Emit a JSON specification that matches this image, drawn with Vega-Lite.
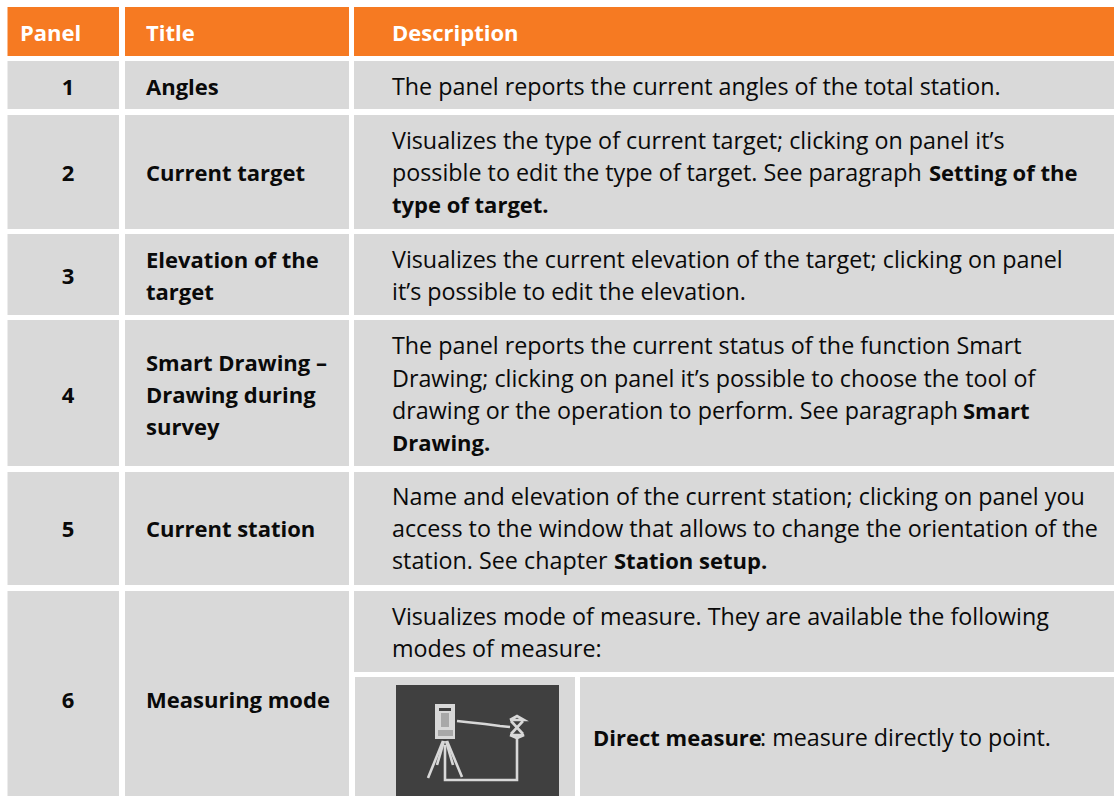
{"$schema":"https://vega.github.io/schema/vega-lite/v6.json","width":1114,"height":796,"autosize":{"type":"fit","contains":"padding"},"padding":0,"background":"white","view":{"stroke":null},
"datasets":{
"cells":[
{"k":"header","l":7.5,"r":119,"t":7,"b":56},{"k":"header","l":125,"r":349,"t":7,"b":56},{"k":"header","l":354,"r":1114,"t":7,"b":56},
{"k":"body","l":7.5,"r":119,"t":61,"b":109},{"k":"body","l":125,"r":349,"t":61,"b":109},{"k":"body","l":354,"r":1114,"t":61,"b":109},
{"k":"body","l":7.5,"r":119,"t":115,"b":229},{"k":"body","l":125,"r":349,"t":115,"b":229},{"k":"body","l":354,"r":1114,"t":115,"b":229},
{"k":"body","l":7.5,"r":119,"t":234,"b":315},{"k":"body","l":125,"r":349,"t":234,"b":315},{"k":"body","l":354,"r":1114,"t":234,"b":315},
{"k":"body","l":7.5,"r":119,"t":320,"b":466},{"k":"body","l":125,"r":349,"t":320,"b":466},{"k":"body","l":354,"r":1114,"t":320,"b":466},
{"k":"body","l":7.5,"r":119,"t":472,"b":585},{"k":"body","l":125,"r":349,"t":472,"b":585},{"k":"body","l":354,"r":1114,"t":472,"b":585},
{"k":"body","l":7.5,"r":119,"t":591,"b":796},{"k":"body","l":125,"r":349,"t":591,"b":796},{"k":"body","l":354,"r":1114,"t":591,"b":672},
{"k":"body","l":355,"r":575,"t":677,"b":796},{"k":"body","l":580,"r":1114,"t":677,"b":796},
{"k":"picture","l":396,"r":559,"t":685,"b":796},
{"k":"light","l":435,"r":455,"t":704,"b":739},
{"k":"picture","l":439,"r":451,"t":708,"b":711},
{"k":"mid","l":441,"r":449,"t":713,"b":727},
{"k":"mid","l":438,"r":453,"t":730,"b":736}
],
"strokes":[
{"g":"a","px":443,"py":741},{"g":"a","px":428,"py":778},
{"g":"b","px":447,"py":741},{"g":"b","px":462,"py":777},
{"g":"i","px":444,"py":741},{"g":"i","px":437,"py":765},
{"g":"j","px":446,"py":741},{"g":"j","px":453,"py":765},
{"g":"c","px":445,"py":745},{"g":"c","px":445,"py":780},{"g":"c","px":517,"py":780},{"g":"c","px":517,"py":738},
{"g":"d","px":457,"py":721},{"g":"d","px":466,"py":722},{"g":"d","px":485,"py":724},{"g":"d","px":500,"py":726},{"g":"d","px":510,"py":727},
{"g":"e","px":510,"py":720},{"g":"e","px":517,"py":716},{"g":"e","px":524,"py":720},{"g":"e","px":510,"py":720},
{"g":"f","px":511,"py":721},{"g":"f","px":523,"py":734},
{"g":"g","px":523,"py":721},{"g":"g","px":511,"py":734},
{"g":"h","px":510,"py":735},{"g":"h","px":524,"py":735},{"g":"h","px":517,"py":738},{"g":"h","px":510,"py":735}
],
"texts":[
{"k":"head","a":"Panel","px":20,"py":33},{"k":"head","a":"Title","px":146,"py":33},{"k":"head","a":"Description","px":392,"py":33},
{"k":"num","a":"1","px":68,"py":87},{"k":"num","a":"2","px":68,"py":173},{"k":"num","a":"3","px":68,"py":276},{"k":"num","a":"4","px":68,"py":395},{"k":"num","a":"5","px":68,"py":529},{"k":"num","a":"6","px":68,"py":700},
{"k":"bold","a":"Angles","px":146,"py":87},{"k":"bold","a":"Current target","px":146,"py":173},{"k":"bold","a":"Elevation of the","px":146,"py":260},{"k":"bold","a":"target","px":146,"py":292},{"k":"bold","a":"Smart Drawing –","px":146,"py":363},{"k":"bold","a":"Drawing during","px":146,"py":395},{"k":"bold","a":"survey","px":146,"py":427},{"k":"bold","a":"Current station","px":146,"py":529},{"k":"bold","a":"Measuring mode","px":146,"py":700},
{"k":"plain","a":"The panel reports the current angles of the total station.","px":392,"py":87},
{"k":"plain","a":"Visualizes the type of current target; clicking on panel it’s","px":392,"py":141},
{"k":"plain","a":"possible to edit the type of target. See paragraph","px":392,"py":173},
{"k":"bold","a":"Setting of the","px":929,"py":173},
{"k":"bold","a":"type of target.","px":392,"py":205},
{"k":"plain","a":"Visualizes the current elevation of the target; clicking on panel","px":392,"py":260},
{"k":"plain","a":"it’s possible to edit the elevation.","px":392,"py":292},
{"k":"plain","a":"The panel reports the current status of the function Smart","px":392,"py":346},
{"k":"plain","a":"Drawing; clicking on panel it’s possible to choose the tool of","px":392,"py":379},
{"k":"plain","a":"drawing or the operation to perform. See paragraph","px":392,"py":411},
{"k":"bold","a":"Smart","px":963,"py":411},
{"k":"bold","a":"Drawing.","px":392,"py":443},
{"k":"plain","a":"Name and elevation of the current station; clicking on panel you","px":392,"py":497},
{"k":"plain","a":"access to the window that allows to change the orientation of the","px":392,"py":529},
{"k":"plain","a":"station. See chapter","px":392,"py":561},
{"k":"bold","a":"Station setup.","px":614,"py":561},
{"k":"plain","a":"Visualizes mode of measure. They are available the following","px":392,"py":617},
{"k":"plain","a":"modes of measure:","px":392,"py":649},
{"k":"bold","a":"Direct measure","px":593,"py":738},
{"k":"plain","a":": measure directly to point.","px":760,"py":738}
]},
"layer":[
{"data":{"name":"cells"},"mark":{"type":"rect"},"encoding":{
"x":{"field":"l","type":"quantitative","scale":{"domain":[0,1114],"nice":false,"zero":false},"axis":null},"x2":{"field":"r"},
"y":{"field":"t","type":"quantitative","scale":{"domain":[796,0],"nice":false,"zero":false},"axis":null},"y2":{"field":"b"},
"color":{"field":"k","type":"nominal","legend":null,"scale":{"domain":["header","body","picture","light","mid"],"range":["#F67A22","#D9D9D9","#404040","#D8D8D8","#A8A8A8"]}}}},
{"data":{"name":"strokes"},"mark":{"type":"line","stroke":"#D8D8D8","strokeWidth":2.6,"interpolate":"linear"},"encoding":{
"x":{"field":"px","type":"quantitative"},"y":{"field":"py","type":"quantitative"},"detail":{"field":"g"},"order":{"field":"ord"}}},
{"data":{"name":"texts"},"transform":[{"filter":"datum.k=='head'"}],"mark":{"type":"text","font":"Open Sans","fontSize":22,"fontWeight":"bold","color":"white","align":"left","baseline":"middle","dy":1},"encoding":{"x":{"field":"px","type":"quantitative"},"y":{"field":"py","type":"quantitative"},"text":{"field":"a"}}},
{"data":{"name":"texts"},"transform":[{"filter":"datum.k=='num'"}],"mark":{"type":"text","font":"Open Sans","fontSize":22,"fontWeight":"bold","color":"#0a0a0a","align":"center","baseline":"middle","dy":1},"encoding":{"x":{"field":"px","type":"quantitative"},"y":{"field":"py","type":"quantitative"},"text":{"field":"a"}}},
{"data":{"name":"texts"},"transform":[{"filter":"datum.k=='bold'"}],"mark":{"type":"text","font":"Open Sans","fontSize":22,"fontWeight":"bold","color":"#0a0a0a","align":"left","baseline":"middle","dy":1},"encoding":{"x":{"field":"px","type":"quantitative"},"y":{"field":"py","type":"quantitative"},"text":{"field":"a"}}},
{"data":{"name":"texts"},"transform":[{"filter":"datum.k=='plain'"}],"mark":{"type":"text","font":"Open Sans","fontSize":23.3,"color":"#0a0a0a","align":"left","baseline":"middle","dy":1},"encoding":{"x":{"field":"px","type":"quantitative"},"y":{"field":"py","type":"quantitative"},"text":{"field":"a"}}}
]}
